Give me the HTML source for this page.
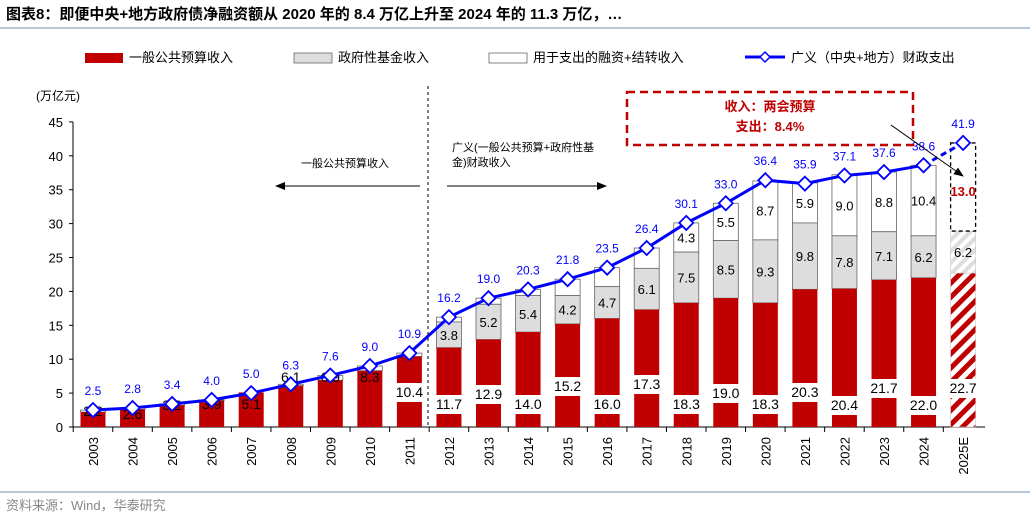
<!DOCTYPE html>
<html><head><meta charset="utf-8"><style>
body{margin:0;background:#fff;width:1030px;height:518px;overflow:hidden;font-family:"Liberation Sans","Noto Sans CJK SC",sans-serif}
</style></head><body>
<svg id="s" width="1030" height="518" xmlns="http://www.w3.org/2000/svg" font-family="Liberation Sans, Noto Sans CJK SC, sans-serif">
<defs>
<pattern id="hr" patternUnits="userSpaceOnUse" width="10" height="10" patternTransform="rotate(45)"><rect width="10" height="10" fill="#fff"/><rect width="5" height="10" fill="#c00000"/></pattern>
<pattern id="hg" patternUnits="userSpaceOnUse" width="8" height="8" patternTransform="rotate(45)"><rect width="8" height="8" fill="#fff"/><rect width="4" height="8" fill="#ddd"/></pattern>
<marker id="ar" markerWidth="10" markerHeight="8" refX="9" refY="4" orient="auto"><path d="M0,0L10,4L0,8z" fill="#000"/></marker>
</defs>
<text x="6" y="19" font-size="15" font-weight="bold" fill="#000">图表8：即便中央+地方政府债净融资额从 2020 年的 8.4 万亿上升至 2024 年的 11.3 万亿，…</text>
<line x1="0" y1="28" x2="1030" y2="28" stroke="#9fb5cc" stroke-width="1.5"/>
<rect x="85" y="53" width="38" height="10" fill="#c00000"/>
<text x="129" y="62" font-size="13">一般公共预算收入</text>
<rect x="294" y="53" width="38" height="10" fill="#ddd" stroke="#666" stroke-width="0.8"/>
<text x="338" y="62" font-size="13">政府性基金收入</text>
<rect x="489" y="53" width="38" height="10" fill="#fff" stroke="#666" stroke-width="0.8"/>
<text x="533" y="62" font-size="13">用于支出的融资+结转收入</text>
<line x1="745" y1="57" x2="785" y2="57" stroke="#0000ff" stroke-width="3"/>
<path d="M765,52L770,57L765,62L760,57z" fill="#fff" stroke="#0000ff" stroke-width="1.5"/>
<text x="791" y="62" font-size="13">广义（中央+地方）财政支出</text>
<text x="36" y="100" font-size="12">(万亿元)</text>
<line x1="0" y1="492" x2="1030" y2="492" stroke="#9fb5cc" stroke-width="1.5"/>
<text x="6" y="510" font-size="13" fill="#888">资料来源：Wind，华泰研究</text>
<g id="g"></g>
</svg>
<script>
(function(){
var g=document.getElementById('g'),h='';
var y0=427,k=6.78,xa=73;
function Y(v){return y0-v*k}
function X(i){return 93+i*39.55}
h+='<line x1="'+xa+'" y1="122" x2="'+xa+'" y2="427" stroke="#000"/>';
for(var v=0;v<=45;v+=5){var y=Y(v);h+='<line x1="'+(xa-4)+'" y1="'+y+'" x2="'+xa+'" y2="'+y+'" stroke="#000"/><text x="'+(xa-10)+'" y="'+(y+5)+'" font-size="13" text-anchor="end">'+v+'</text>';}
var yrs=[];for(var i=2003;i<=2024;i++)yrs.push(''+i);yrs.push('2025E');
var gen=[2.2,2.6,3.2,3.9,5.1,6.1,6.9,8.3,10.4,11.7,12.9,14.0,15.2,16.0,17.3,18.3,19.0,18.3,20.3,20.4,21.7,22.0,22.7];
var fund=[0,0,0,0,0,0,0,0,0,3.8,5.2,5.4,4.2,4.7,6.1,7.5,8.5,9.3,9.8,7.8,7.1,6.2,6.2];
var tot=[2.5,2.8,3.4,4.0,5.0,6.3,7.6,9.0,10.9,16.2,19.0,20.3,21.8,23.5,26.4,30.1,33.0,36.4,35.9,37.1,37.6,38.6,41.9];
var wl={15:'4.3',16:'5.5',17:'8.7',18:'5.9',19:'9.0',20:'8.8',21:'10.4'};
var gly=[416,419,410,409,409,382,382,382,397,409,399,409,391,409,389,409,398,409,397,410,393,410,393];
var bw=25;
h+='<line x1="'+xa+'" y1="427" x2="'+(X(22)+22)+'" y2="427" stroke="#000"/>';
for(var i=0;i<23;i++){var x=X(i)-bw/2;
 var tx=X(i)-19.8;h+='<line x1="'+tx+'" y1="427" x2="'+tx+'" y2="432" stroke="#000"/>';
 var g1=gen[i],f=fund[i],t=tot[i];
 var tp=wl[i]?g1+f+parseFloat(wl[i]):Math.max(t,g1+f);
 if(i==22){
  h+='<rect x="'+x+'" y="'+Y(22.7)+'" width="'+bw+'" height="'+(22.7*k)+'" fill="url(#hr)" stroke="#bbb" stroke-width="0.5"/>';
  h+='<rect x="'+x+'" y="'+Y(28.9)+'" width="'+bw+'" height="'+(6.2*k)+'" fill="url(#hg)" stroke="#bbb" stroke-width="0.5"/>';
  h+='<rect x="'+x+'" y="'+Y(41.9)+'" width="'+bw+'" height="'+(13*k)+'" fill="#fff" stroke="#000" stroke-dasharray="4,3" stroke-width="1.3"/>';
  h+='<text x="'+X(i)+'" y="'+(Y(41.9)+53)+'" font-size="13" text-anchor="middle" fill="#c00000" font-weight="bold">13.0</text>';
  h+='<text x="'+X(i)+'" y="'+(Y(25.8)+5)+'" font-size="13" text-anchor="middle">6.2</text>';
 } else {
  if(tp>g1+f+0.05)h+='<rect x="'+x+'" y="'+Y(tp)+'" width="'+bw+'" height="'+((tp-g1-f)*k)+'" fill="#fff" stroke="#666" stroke-width="0.8"/>';
  if(f)h+='<rect x="'+x+'" y="'+Y(g1+f)+'" width="'+bw+'" height="'+(f*k)+'" fill="#ddd" stroke="#666" stroke-width="0.8"/>';
  h+='<rect x="'+x+'" y="'+Y(g1)+'" width="'+bw+'" height="'+(g1*k)+'" fill="#c00000"/>';
  if(f)h+='<text x="'+X(i)+'" y="'+(Y(g1+f/2)+5)+'" font-size="13" text-anchor="middle">'+f.toFixed(1)+'</text>';
  if(wl[i])h+='<text x="'+X(i)+'" y="'+(Y((g1+f+tp)/2)+5)+'" font-size="13" text-anchor="middle">'+wl[i]+'</text>';
 }
 var ly=gly[i];
 if(i>=8)h+='<rect x="'+(x-1)+'" y="'+(ly-14)+'" width="'+(bw+2)+'" height="19" fill="#fff"/>';
 h+='<text x="'+X(i)+'" y="'+ly+'" font-size="14" text-anchor="middle">'+g1.toFixed(1)+'</text>';
 h+='<text transform="translate('+(X(i)+5)+',437) rotate(-90)" font-size="13" text-anchor="end">'+yrs[i]+'</text>';
}
var p='';for(var i=0;i<22;i++)p+=(i?'L':'M')+X(i)+','+Y(tot[i]);
h+='<path d="'+p+'" fill="none" stroke="#0000ff" stroke-width="3"/>';
h+='<line x1="'+X(21)+'" y1="'+Y(38.6)+'" x2="'+X(22)+'" y2="'+Y(41.9)+'" stroke="#0000ff" stroke-width="3" stroke-dasharray="6,4"/>';
for(var i=0;i<23;i++){var cx=X(i),cy=Y(tot[i]);
 h+='<path d="M'+cx+','+(cy-7)+'L'+(cx+7)+','+cy+'L'+cx+','+(cy+7)+'L'+(cx-7)+','+cy+'z" fill="#fff" stroke="#0000ff" stroke-width="1.8"/>';
 h+='<text x="'+cx+'" y="'+(cy-15)+'" font-size="12" text-anchor="middle" fill="#0000ff">'+tot[i].toFixed(1)+'</text>';}
h+='<line x1="428" y1="86" x2="428" y2="427" stroke="#000" stroke-dasharray="3,3"/>';
h+='<text x="345" y="167" font-size="11" text-anchor="middle">一般公共预算收入</text>';
h+='<line x1="420" y1="186" x2="276" y2="186" stroke="#000" marker-end="url(#ar)"/>';
h+='<text x="452" y="151" font-size="11">广义(一般公共预算+政府性基</text><text x="452" y="166" font-size="11">金)财政收入</text>';
h+='<line x1="447" y1="186" x2="606" y2="186" stroke="#000" marker-end="url(#ar)"/>';
h+='<rect x="627" y="92" width="286" height="53" fill="none" stroke="#c00000" stroke-width="2.5" stroke-dasharray="8,5"/>';
h+='<text x="770" y="111" font-size="13" font-weight="bold" fill="#c00000" text-anchor="middle">收入：两会预算</text>';
h+='<text x="770" y="131" font-size="13" font-weight="bold" fill="#c00000" text-anchor="middle">支出：8.4%</text>';
h+='<line x1="891" y1="125" x2="963" y2="176" stroke="#000" marker-end="url(#ar)"/>';
g.innerHTML=h;
})();
</script>
</body></html>
